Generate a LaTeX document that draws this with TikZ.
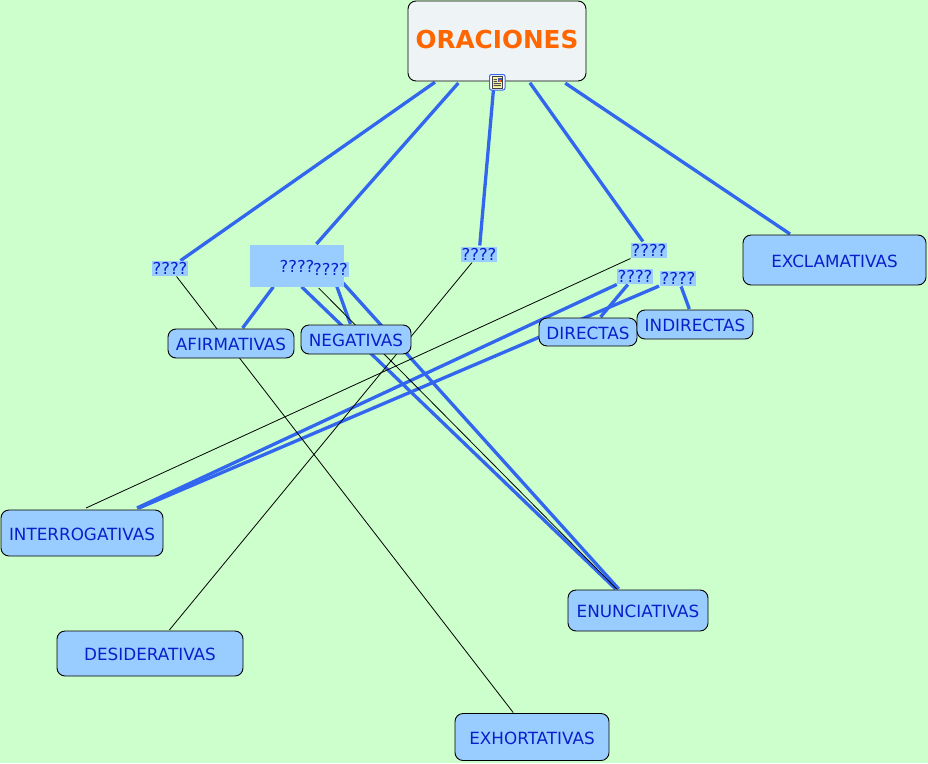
\documentclass[tikz,border=0pt]{standalone}
\usepackage{fontspec}
\setmainfont{DejaVu Sans}
\usetikzlibrary{backgrounds}
\definecolor{pagebg}{HTML}{CCFFCC}
\definecolor{conceptfill}{HTML}{99CCFF}
\definecolor{rootfill}{HTML}{EEF3F6}
\definecolor{inkblue}{HTML}{0A1FCC}
\definecolor{linkblue}{HTML}{3366EE}
\definecolor{rootorange}{HTML}{FF6600}
\tikzset{
  concept/.style={draw=black,line width=0.9pt,rounded corners=8pt,fill=conceptfill,text=inkblue,
    font=\fontsize{16.8}{18}\selectfont,inner sep=0pt,outer sep=1pt,anchor=center,text height=14pt,text depth=0pt},
  rootbox/.style={concept,fill=rootfill,text=rootorange,font=\fontsize{24.7}{28}\selectfont\bfseries},
  linklabel/.style={fill=conceptfill,text=inkblue,font=\fontsize{16.4}{18}\selectfont,
    inner sep=0pt,minimum width=36pt,minimum height=15pt,outer sep=1pt},
  strong/.style={draw=linkblue,line width=3.3pt},
  fine/.style={draw=black,line width=0.8pt},
}
\newcommand{\cnode}[7]{\node[#7,minimum width=#3pt,minimum height=#4pt] (#1) at (#5,#6) {#2};}
\begin{document}
\begin{tikzpicture}[x=1pt,y=-1pt]
\useasboundingbox (0,0) rectangle (928,763);
\begin{scope}[on background layer]
\fill[pagebg] (0,0) rectangle (928,763);
\end{scope}
\cnode{root}{ORACIONES}{178}{80}{497}{41}{rootbox}
\cnode{exclam}{EXCLAMATIVAS}{183}{50}{834.5}{260}{concept}
\cnode{afirm}{AFIRMATIVAS}{126}{29}{231}{343.5}{concept}
\cnode{negat}{NEGATIVAS}{110}{29}{356}{339.5}{concept}
\cnode{direc}{DIRECTAS}{98}{28}{588}{332}{concept}
\cnode{indir}{INDIRECTAS}{116}{29}{695}{324.5}{concept}
\cnode{interr}{INTERROGATIVAS}{162}{46}{82}{533}{concept}
\cnode{enun}{ENUNCIATIVAS}{140}{41}{638}{610.5}{concept}
\cnode{desid}{DESIDERATIVAS}{186}{45}{150}{653.5}{concept}
\cnode{exhor}{EXHORTATIVAS}{154}{47}{532}{737}{concept}
\node[linklabel,minimum width=94pt,minimum height=42pt] (big) at (297,266) {????};
\node[linklabel] (la) at (170,268) {????};
\node[linklabel] (lb) at (330.5,269) {????};
\node[linklabel] (lc) at (479,254) {????};
\node[linklabel] (ld) at (649,250) {????};
\node[linklabel] (le) at (635,276) {????};
\node[linklabel] (lf) at (678,278) {????};
\coordinate (hidden) at (280,266);
\coordinate (bigafirm) at (289,266);
\coordinate (rootc) at (498,38);
\coordinate (exclamend) at (790,234);
\coordinate (intfine) at (86,508);
\coordinate (intle) at (137,508);
\coordinate (intlf) at (139,508);
\begin{scope}[on background layer]
\path[strong,shorten <=77pt,shorten >=-2pt] (rootc) -- (la);
\path[strong,shorten <=60pt] (rootc) -- (big);
\path[strong,shorten <=50pt] (rootc) -- (lc);
\path[strong,shorten <=55pt] (rootc) -- (ld);
\path[strong,shorten <=81pt] (rootc) -- (exclamend);
\path[strong,shorten <=26pt] (bigafirm) -- (afirm);
\path[strong,shorten <=30pt] (hidden) -- (enun);
\path[strong] (lb) -- (negat);
\path[strong] (lb) -- (enun);
\path[strong] (le) -- (direc);
\path[strong] (le) -- (intle);
\path[strong] (lf) -- (indir);
\path[strong] (lf) -- (intlf);
\path[fine] (la) -- (exhor);
\path[fine] (lc) -- (desid);
\path[fine] (ld) -- (intfine);
\path[fine] (big) -- (enun);
\end{scope}
% note icon on the root concept
\draw[draw=linkblue,fill=white,line width=1pt,rounded corners=2pt] (489.5,74.5) rectangle (505,90);
\fill[black!75] (491.5,76) rectangle (503,88.5);
\fill[yellow!35!white] (492.5,77) rectangle (502,87.5);
\fill[black!70] (493.5,79) rectangle (497,80) (493.5,81) rectangle (497,82) (493.5,83) rectangle (501,84) (493.5,85) rectangle (501,86);
\fill[blue!35!gray] (497.5,77.5) rectangle (501.5,81.5);
\fill[orange!80!red] (499,79.5) rectangle (501,81.5);
\end{tikzpicture}
\end{document}
